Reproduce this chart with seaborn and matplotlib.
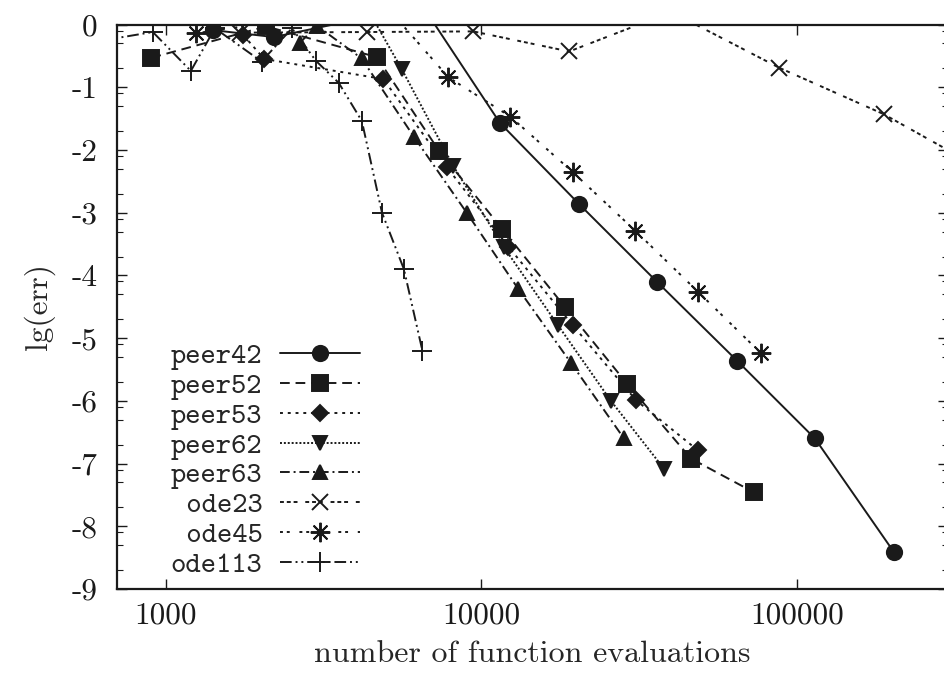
import numpy as np
import matplotlib
matplotlib.use("Agg")
import matplotlib.pyplot as plt
import seaborn as sns
from matplotlib.ticker import FixedLocator, FixedFormatter, NullLocator

# =========================
# DATA
# =========================
peer42_x = [1410, 2200, 6500, 11450, 20370, 35970, 64580, 114000, 202800]
peer42_y = [-0.09, -0.20, 0.30, -1.57, -2.86, -4.10, -5.36, -6.60, -8.41]

peer52_x = [900, 2080, 4660, 7330, 11640, 18370, 28970, 46130, 73110]
peer52_y = [-0.53, -0.03, -0.52, -2.01, -3.26, -4.50, -5.73, -6.92, -7.46]

peer53_x = [1760, 2050, 4890, 7760, 12160, 19440, 30900, 48540]
peer53_y = [-0.17, -0.55, -0.87, -2.27, -3.54, -4.79, -5.99, -6.79]

peer62_x = [3830, 5590, 8150, 11780, 17460, 25720, 37860]
peer62_y = [0.74, -0.71, -2.26, -3.55, -4.79, -6.00, -7.08]

peer63_x = [2660, 3010, 4170, 6110, 8980, 13060, 19190, 28300]
peer63_y = [-0.29, -0.02, -0.54, -1.79, -3.00, -4.21, -5.39, -6.60]

ode23_x = [1720, 4330, 9420, 18970, 40000, 87900, 188400, 400000]
ode23_y = [-0.13, -0.12, -0.11, -0.43, 0.20, -0.69, -1.43, -2.35]

ode45_x = [1245, 4970, 7850, 12360, 19440, 30760, 48540, 76900]
ode45_y = [-0.14, 0.30, -0.84, -1.47, -2.35, -3.29, -4.26, -5.24]

ode113_x = [620, 909, 1200, 1430, 2010, 2510, 2990, 3530, 4180, 4840, 5680, 6500]
ode113_y = [-0.26, -0.12, -0.74, -0.06, -0.59, -0.06, -0.58, -0.93, -1.54, -3.00, -3.90, -5.20]

series_names = ["peer42", "peer52", "peer53", "peer62", "peer63", " ode23", " ode45", "ode113"]
x_ticks = [1000, 10000, 100000]
y_ticks = list(range(-9, 1))

# =========================
# STYLE
# =========================
sns.set_theme(style="ticks")
plt.rcParams["font.family"] = "cmr10"
plt.rcParams["axes.unicode_minus"] = False

ink = "#1a1a1a"
styles = [
    dict(ls="-", marker="o", ms=11),
    dict(ls=(0, (5, 3)), marker="s", ms=12),
    dict(ls=(0, (1.5, 2.5)), marker="D", ms=8),
    dict(ls=(0, (1, 1)), marker="v", ms=10),
    dict(ls=(0, (5, 2, 1, 2)), marker="^", ms=10),
    dict(ls=(0, (2, 1.5, 2, 1.5, 2, 4)), marker="x", ms=12),
    dict(ls=(0, (1.5, 2, 1.5, 5)), marker=(8, 2, 0), ms=14),
    dict(ls=(0, (6, 2, 1, 2, 1, 2)), marker="+", ms=14),
]
all_x = [peer42_x, peer52_x, peer53_x, peer62_x, peer63_x, ode23_x, ode45_x, ode113_x]
all_y = [peer42_y, peer52_y, peer53_y, peer62_y, peer63_y, ode23_y, ode45_y, ode113_y]

fig = plt.figure(figsize=(9.44, 6.8), dpi=100)
ax = fig.add_axes([117 / 944, 91 / 680, 830.5 / 944, 564.5 / 680])

for xs, ys, name, st in zip(all_x, all_y, series_names, styles):
    sns.lineplot(x=xs, y=ys, ax=ax, color=ink, lw=1.4, linestyle=st["ls"],
                 marker=st["marker"], markersize=st["ms"], markeredgewidth=1.4,
                 markeredgecolor=ink, markerfacecolor=ink,
                 sort=False, estimator=None, label=name)

ax.set_xscale("log")
ax.set_xlim(700, 300000)
ax.set_ylim(-9, 0)

ax.xaxis.set_major_locator(FixedLocator(x_ticks))
ax.xaxis.set_major_formatter(FixedFormatter([str(v) for v in x_ticks]))
ax.xaxis.set_minor_locator(NullLocator())
ax.yaxis.set_major_locator(FixedLocator(y_ticks))
ax.yaxis.set_major_formatter(FixedFormatter([str(v) for v in y_ticks]))
minor_y = [k + np.log10(m) for k in range(-9, 0) for m in (2, 5, 8)]
ax.yaxis.set_minor_locator(FixedLocator(minor_y))

ax.tick_params(which="both", direction="in", top=True, right=True, colors=ink)
ax.tick_params(which="major", length=7, width=1.0, labelsize=22.5)
ax.tick_params(which="minor", length=4, width=0.8)
ax.tick_params(axis="y", pad=14)
ax.tick_params(axis="x", pad=9)
for sp in ax.spines.values():
    sp.set_linewidth(1.6)
    sp.set_color(ink)

ax.set_xlabel("number of function evaluations", fontsize=23, labelpad=8)
ax.set_ylabel("lg(err)", fontsize=22.5, labelpad=12)

leg = ax.legend(loc="lower left", bbox_to_anchor=(0.04, -0.018), frameon=False,
                markerfirst=False, prop={"family": "cmtt10", "size": 21},
                handlelength=2.75, handletextpad=0.6, labelspacing=0.08,
                borderaxespad=0.3)

fig.savefig("out.png", dpi=100)
